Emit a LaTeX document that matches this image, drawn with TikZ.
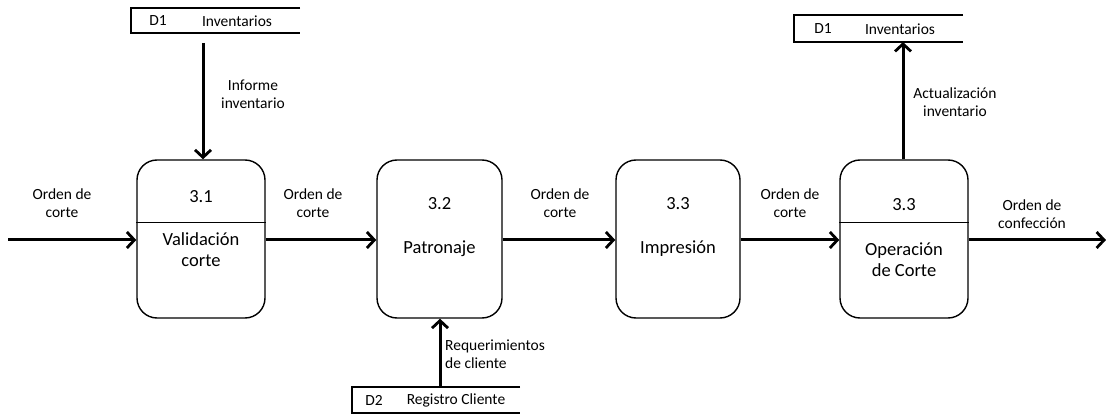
\documentclass[tikz,border=0pt]{standalone}
\usepackage{fontspec}
\setmainfont{Carlito}
\usetikzlibrary{arrows.meta}
\begin{document}
\begin{tikzpicture}[x=1pt,y=-1pt,
  proc/.style={draw, line width=1.4pt, rounded corners=20pt, minimum height=158pt, inner sep=0pt},
  flow/.style={line width=3pt, -{Straight Barb[length=7.5pt,width=16pt,line width=2.8pt]}},
  lbl/.style={font=\fontsize{15.5}{17.5}\selectfont, align=center, text=black, inner sep=0pt},
  big/.style={font=\fontsize{18.5}{21}\selectfont, align=center, text=black, inner sep=0pt},
  store/.style={line width=1.5pt},
  divider/.style={line width=1pt}]
\useasboundingbox (0,0) rectangle (1106,414);

% processes
\node[proc, minimum width=128pt] (p1) at (201,239) {};
\node[proc, minimum width=125pt] (p2) at (439.5,239) {};
\node[proc, minimum width=124pt] (p3) at (678,239) {};
\node[proc, minimum width=128pt] (p4) at (904,239) {};

\draw[divider] (p1.west |- 0,222.5) -- (p1.east |- 0,222.5);
\draw[divider] (p4.west |- 0,222.5) -- (p4.east |- 0,222.5);

\node[big] (n1) at (201,197) {3.1};
\node[big] (t1) at (201,250) {Validación\\corte};
\node[big] (n2) at (439.5,204) {3.2};
\node[big] (t2) at (439.5,249) {Patronaje};
\node[big] (n3) at (678,204) {3.3};
\node[big] (t3) at (678,249) {Impresión};
\node[big] (n4) at (904,205) {3.3};
\node[big] (t4) at (904,260) {Operación\\de Corte};

% data stores
\draw[store] (300,8) -- (131,8) -- (131,33) -- (300,33);
\node[lbl] (s1a) at (158,21) {D1};
\node[lbl] (s1b) at (237,21) {Inventarios};
\coordinate (s1) at (203,43);

\draw[store] (963,15) -- (794,15) -- (794,42) -- (963,42);
\node[lbl] (s3a) at (823,29) {D1};
\node[lbl] (s3b) at (900,29) {Inventarios};
\coordinate (s3) at (903,42);

\draw[store] (520,387) -- (352,387) -- (352,413) -- (520,413);
\node[lbl] (s2a) at (374,400) {D2};
\node[lbl] (s2b) at (456,400) {Registro Cliente};
\coordinate (s2) at (440,387);

% flows
\coordinate (in) at (8,240);
\coordinate (out) at (1106,240);
\draw[flow] (in) -- (p1.west |- in);
\draw[flow] (p1.east |- in) -- (p2.west |- in);
\draw[flow] (p2.east |- in) -- (p3.west |- in);
\draw[flow] (p3.east |- in) -- (p4.west |- in);
\draw[flow] (p4.east |- in) -- (out);
\draw[flow] (s1) -- (p1.north -| s1);
\draw[flow] (s2) -- (p2.south -| s2);
\draw[flow] (p4.north -| s3) -- (s3);

% flow labels
\node[lbl] (l1) at (62,203) {Orden de\\corte};
\node[lbl] (l2) at (313,203) {Orden de\\corte};
\node[lbl] (l3) at (560,203) {Orden de\\corte};
\node[lbl] (l4) at (790,203) {Orden de\\corte};
\node[lbl] (l5) at (1032,214) {Orden de\\confección};
\node[lbl] (l6) at (253,94) {Informe\\inventario};
\node[lbl] (l7) at (955,102) {Actualización\\inventario};
\node[lbl, align=left, anchor=west] (l8) at (445,354) {Requerimientos\\de cliente};
\end{tikzpicture}
\end{document}
